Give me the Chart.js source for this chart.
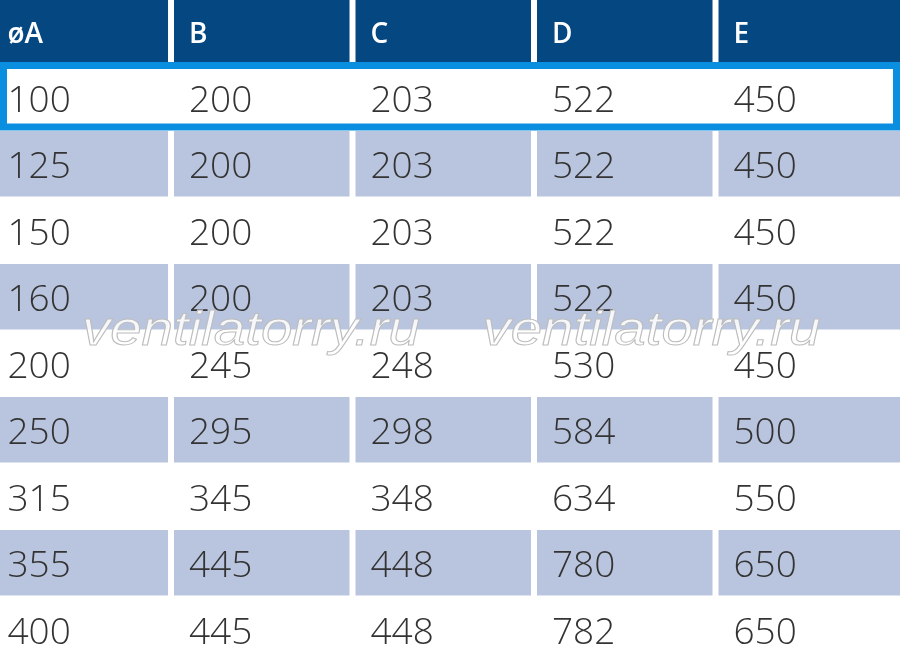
<!DOCTYPE html>
<html>
<head>
<meta charset="utf-8">
<script src="https://cdn.jsdelivr.net/npm/chart.js@4.4.0/dist/chart.umd.min.js"></script>
<style>
  html, body { margin: 0; padding: 0; background: #ffffff; }
  #wrap { width: 900px; height: 660px; }
</style>
</head>
<body>
<div id="wrap"><canvas id="chart" width="900" height="660"></canvas></div>
<script>
// table values
const headers = ['øA', 'B', 'C', 'D', 'E'];
const sizeA = [100, 125, 150, 160, 200, 250, 315, 355, 400];
const sizeB = [200, 200, 200, 200, 245, 295, 345, 445, 445];
const sizeC = [203, 203, 203, 203, 248, 298, 348, 448, 448];
const sizeD = [522, 522, 522, 522, 530, 584, 634, 780, 782];
const sizeE = [450, 450, 450, 450, 450, 500, 550, 650, 650];
const highlightRow = 0;
const watermark = 'ventilatorry.ru';

const columns = [sizeA, sizeB, sizeC, sizeD, sizeE];

// styling
const headerColor = '#044781';
const stripeColor = '#b9c5de';
const frameColor = '#0a8ee0';
const textColor = '#333333';
const colGap = 0.033;     // white gap between columns, in x units
const headerTop = -0.955; // header is a bit shorter than a data row

const tablePlugin = {
    id: 'tableCells',
    beforeDatasetsDraw(chart) {
        const ctx = chart.ctx;
        const x = chart.scales.x;
        const y = chart.scales.y;
        const last = headers.length - 1;
        const left = c => x.getPixelForValue(c);
        const right = c => c === last ? x.getPixelForValue(headers.length) : x.getPixelForValue(c + 1 - colGap);

        ctx.save();
        // header cells
        headers.forEach((h, c) => {
            const top = y.getPixelForValue(headerTop);
            const bottom = y.getPixelForValue(0) - 1.5;
            ctx.fillStyle = headerColor;
            ctx.fillRect(left(c), top, right(c) - left(c), bottom - top);
        });

        // striped rows
        sizeA.forEach((v, r) => {
            if (r % 2 === 1) {
                const top = y.getPixelForValue(r) + 1;
                const bottom = y.getPixelForValue(r + 1);
                headers.forEach((h, c) => {
                    ctx.fillStyle = stripeColor;
                    ctx.fillRect(left(c), top, right(c) - left(c), bottom - top);
                });
            }
        });

        // highlighted row frame
        {
            const top = y.getPixelForValue(highlightRow) - 1.5;
            const bottom = y.getPixelForValue(highlightRow + 1) + 0.5;
            const l = chart.chartArea.left;
            const w = chart.chartArea.right - l;
            ctx.fillStyle = '#ffffff';
            ctx.fillRect(l, top, w, bottom - top);
            ctx.strokeStyle = frameColor;
            ctx.lineWidth = 7;
            ctx.strokeRect(l + 3.5, top + 3.5, w - 7, bottom - top - 7);
        }

        // header text
        ctx.fillStyle = '#ffffff';
        ctx.font = '600 28px "Open Sans"';
        ctx.textBaseline = 'alphabetic';
        ctx.textAlign = 'left';
        headers.forEach((h, c) => {
            const mid = y.getPixelForValue(headerTop / 2);
            ctx.fillText(h, left(c) + 15, mid + 11.5);
        });

        // cell values
        ctx.fillStyle = textColor;
        ctx.font = '300 37px "Open Sans"';
        columns.forEach((col, c) => {
            col.forEach((v, r) => {
                const mid = y.getPixelForValue(r + 0.5);
                ctx.fillText(String(v), left(c) + 15, mid + 15);
            });
        });
        ctx.restore();
    },
    afterDatasetsDraw(chart) {
        // outlined watermark, twice across the table
        const ctx = chart.ctx;
        const y = chart.scales.y;
        const base = y.getPixelForValue(4) + 15.5;
        const w = chart.chartArea.right - chart.chartArea.left;
        ctx.save();
        ctx.font = 'italic 48px "Liberation Sans"';
        ctx.textBaseline = 'alphabetic';
        const tw = ctx.measureText(watermark).width;
        [0.091, 0.536].forEach(f => {
            ctx.save();
            ctx.translate(chart.chartArea.left + w * f, base);
            ctx.scale(338 / tw, 1);
            ctx.fillStyle = 'rgba(255,255,255,0.85)';
            ctx.fillText(watermark, 0, 0);
            ctx.strokeStyle = '#bdbdbd';
            ctx.lineWidth = 1;
            ctx.strokeText(watermark, 0, 0);
            ctx.restore();
        });
        ctx.restore();
    }
};

const ctx = document.getElementById('chart').getContext('2d');
const myChart = new Chart(ctx, {
    type: 'scatter',
    data: {
        datasets: [{
            data: [],
            pointRadius: 0,
        }]
    },
    options: {
        responsive: false,
        animation: false,
        layout: { padding: 0 },
        plugins: {
            legend: { display: false },
            tooltip: { enabled: false }
        },
        scales: {
            x: { type: 'linear', min: 0.0413, max: 5, display: false },
            y: { type: 'linear', min: headerTop, max: 8.97, reverse: true, display: false }
        }
    },
    plugins: [tablePlugin]
});
</script>
</body>
</html>
